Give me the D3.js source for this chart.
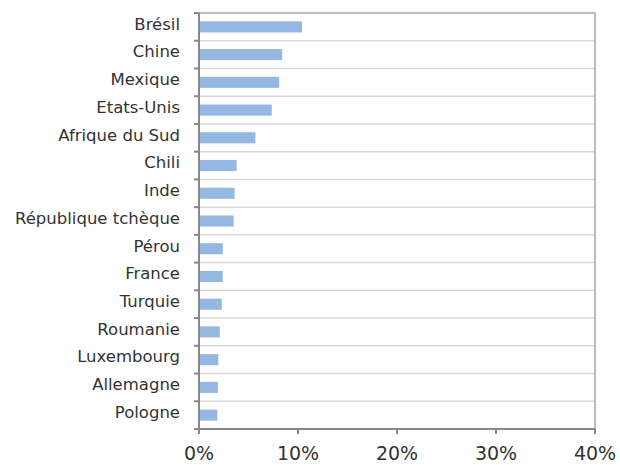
<!DOCTYPE html>
<html>
<head>
<meta charset="utf-8">
<script src="https://cdn.jsdelivr.net/npm/d3@7"></script>
<style>
    body { margin: 0; background: #fff; }
    svg text { font-family: "DejaVu Sans", sans-serif; fill: #333; }
</style>
</head>
<body>
<svg id="chart" width="620" height="465"></svg>
<script>
let countries = ['Brésil', 'Chine', 'Mexique', 'Etats-Unis', 'Afrique du Sud', 'Chili', 'Inde',
    'République tchèque', 'Pérou', 'France', 'Turquie', 'Roumanie', 'Luxembourg', 'Allemagne', 'Pologne']
let values = [10.4, 8.4, 8.1, 7.35, 5.7, 3.8, 3.6, 3.5, 2.4, 2.4, 2.3, 2.1, 1.95, 1.9, 1.85]
let x_ticks = [0, 10, 20, 30, 40]

let bar_fill = '#95b8e2'
let pad = { 'l': 199, 'r': 25, 't': 13, 'b': 36 }

let svg = d3.select('#chart')
let width = 620 - pad.l - pad.r
let height = 465 - pad.t - pad.b

let x = d3.scaleLinear().domain([0, 40]).range([0, width])
let y = d3.scaleBand().domain(countries).range([0, height]).paddingInner(0.6).paddingOuter(0.3)

let g = svg.append('g').attr('transform', `translate(${pad.l},${pad.t})`)

// gridlines between categories
let step = y.step()
g.selectAll('line.grid').data(d3.range(1, countries.length)).enter()
    .append('line')
    .attr('x1', 0).attr('x2', width)
    .attr('y1', i => i * step).attr('y2', i => i * step)
    .style('stroke', '#d9d9d9').style('stroke-width', 1.5)

// plot border (top + right)
g.append('path')
    .attr('d', `M0,0H${width}V${height}`)
    .style('fill', 'none').style('stroke', '#a6a6a6').style('stroke-width', 1.5)

g.selectAll('rect.bar').data(values).enter()
    .append('rect')
    .attr('x', 0)
    .attr('y', (d, i) => y(countries[i]))
    .attr('width', d => x(d))
    .attr('height', y.bandwidth())
    .style('fill', bar_fill)

// left axis with ticks at band boundaries
g.append('line')
    .attr('x1', 0).attr('x2', 0).attr('y1', 0).attr('y2', height)
    .style('stroke', '#888').style('stroke-width', 2)
g.selectAll('line.ytick').data(d3.range(0, countries.length + 1)).enter()
    .append('line')
    .attr('x1', -5).attr('x2', 0)
    .attr('y1', i => i * step).attr('y2', i => i * step)
    .style('stroke', '#888').style('stroke-width', 2)

g.selectAll('text.cat').data(countries).enter()
    .append('text')
    .attr('x', -19)
    .attr('y', d => y(d) + y.bandwidth() / 2 - 3)
    .attr('dy', '0.35em')
    .attr('text-anchor', 'end')
    .style('font-size', '16.5px')
    .text(d => d)

// bottom axis
let xa = g.append('g').attr('transform', `translate(0,${height})`)
xa.append('line')
    .attr('x1', 0).attr('x2', width)
    .style('stroke', '#888').style('stroke-width', 2)
xa.selectAll('line.xtick').data(x_ticks).enter()
    .append('line')
    .attr('x1', d => x(d)).attr('x2', d => x(d))
    .attr('y1', 0).attr('y2', 5)
    .style('stroke', '#888').style('stroke-width', 2)
xa.selectAll('text').data(x_ticks).enter()
    .append('text')
    .attr('x', d => x(d))
    .attr('y', 31)
    .attr('text-anchor', 'middle')
    .style('font-size', '19px')
    .text(d => d + '%')
</script>
</body>
</html>
